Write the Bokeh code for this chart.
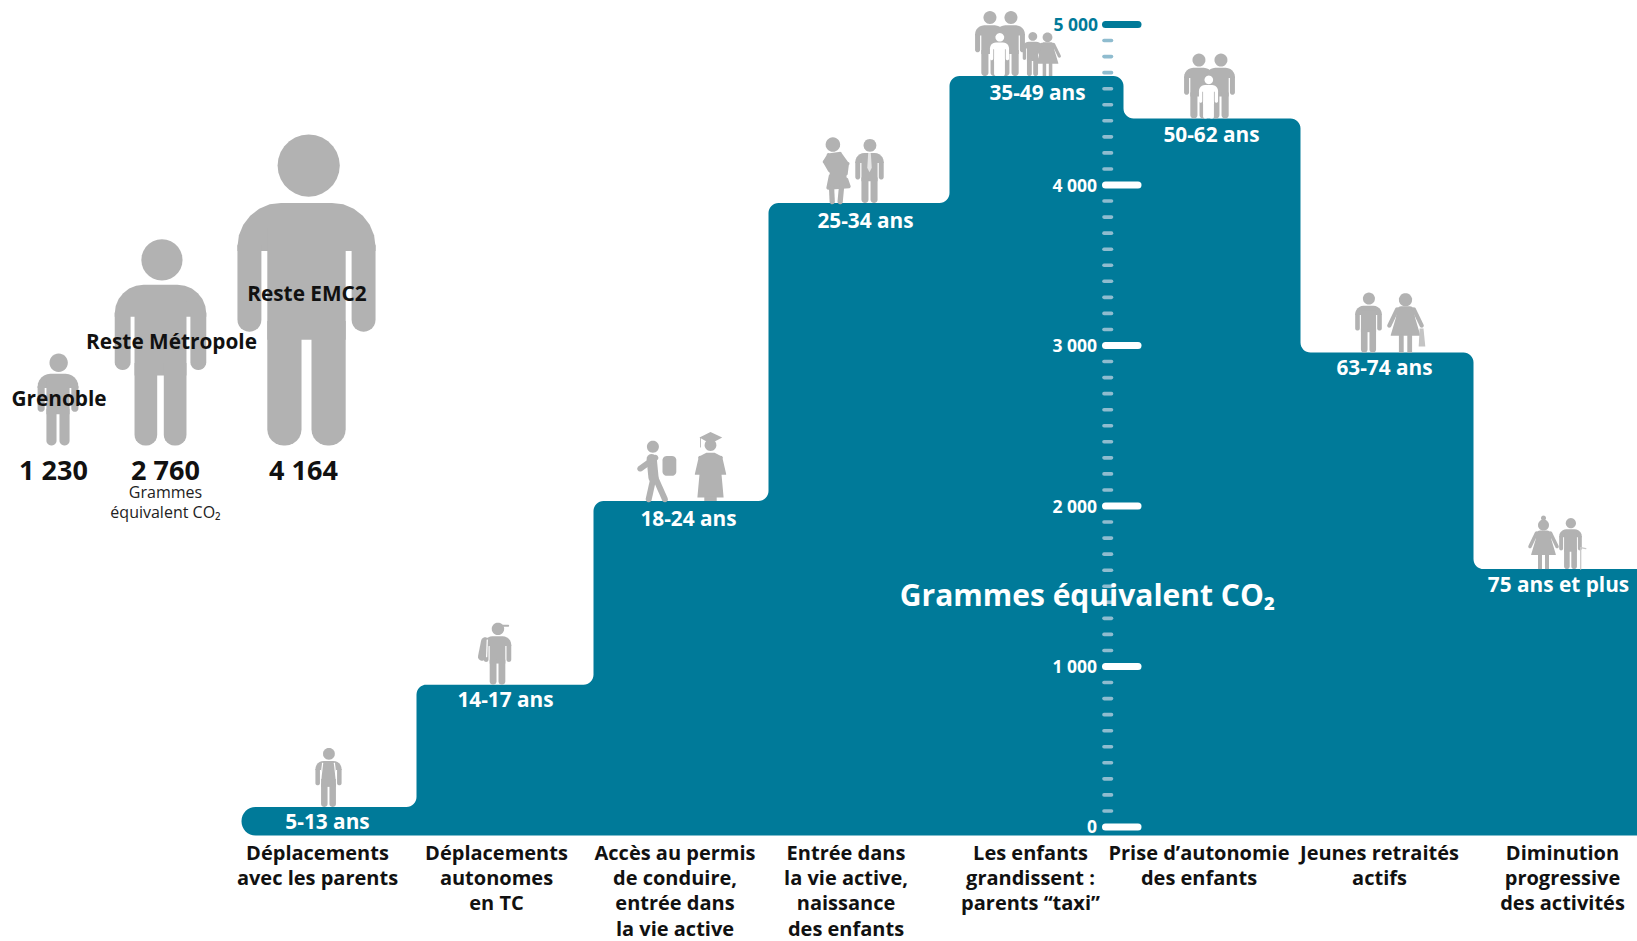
import math
import numpy as np
from bokeh.embed import file_html
from bokeh.resources import INLINE
from bokeh.plotting import figure
from bokeh.models import Range1d, ColumnDataSource
from bokeh.core.properties import value

# ---- data ----
age_groups = ["5-13 ans", "14-17 ans", "18-24 ans", "25-34 ans", "35-49 ans", "50-62 ans", "63-74 ans", "75 ans et plus"]
grams_per_age = [125, 887, 2031, 3888, 4679, 4414, 2956, 1607]
step_edges = [241, 416, 593, 768, 949, 1123, 1300, 1473, 1645]
phases = [["Déplacements", "avec les parents"], ["Déplacements", "autonomes", "en TC"],
          ["Accès au permis", "de conduire,", "entrée dans", "la vie active"],
          ["Entrée dans", "la vie active,", "naissance", "des enfants"],
          ["Les enfants", "grandissent :", "parents “taxi”"], ["Prise d’autonomie", "des enfants"],
          ["Jeunes retraités", "actifs"], ["Diminution", "progressive", "des activités"]]
zones = ["Grenoble", "Reste Métropole", "Reste EMC2"]
zone_grams = [1230, 2760, 4164]
zone_labels = ["1 230", "2 760", "4 164"]
major_ticks = [0, 1000, 2000, 3000, 4000, 5000]
major_labels = ["0", "1 000", "2 000", "3 000", "4 000", "5 000"]
minor_ticks = [v for v in range(100, 5000, 100) if v % 1000]

# ---- page geometry ----
W, H = 1637, 941
Y0, K = 826.5, 0.1605           # page y of 0 g, pixels per gram
TEAL, GRAY, PALE = "#007a99", "#b2b2b2", "#8fbccf"
FONT = value("Open Sans")


def gy(py):
    return (Y0 - np.asarray(py, dtype=float)) / K


def py(g):
    return Y0 - g * K


p = figure(width=W, height=H, x_range=Range1d(0, W),
           y_range=Range1d(float(gy(H)), float(gy(0))),
           output_backend="svg", toolbar_location=None, min_border=0,
           outline_line_color=None, background_fill_color="white", border_fill_color="white")
p.axis.visible = False
p.grid.visible = False
p.xaxis.visible = False
p.yaxis.visible = False


def rounded(pts, radii, n=8):
    out = []
    m = len(pts)
    for i, q in enumerate(pts):
        r = radii[i] if isinstance(radii, (list, tuple)) else radii
        q = np.array(q, float)
        if r <= 0:
            out.append(tuple(q))
            continue
        a = np.array(pts[i - 1], float) - q
        b = np.array(pts[(i + 1) % m], float) - q
        a /= np.linalg.norm(a)
        b /= np.linalg.norm(b)
        t1, t2 = q + a * r, q + b * r
        # circular arc between the two tangent points
        c = q + (a + b) * r
        v1, v2 = t1 - c, t2 - c
        ang1 = math.atan2(v1[1], v1[0])
        ang2 = math.atan2(v2[1], v2[0])
        d = (ang2 - ang1 + math.pi) % (2 * math.pi) - math.pi
        for k in range(n + 1):
            an = ang1 + d * k / n
            out.append((c[0] + r * math.cos(an), c[1] + r * math.sin(an)))
    return out


# ---- staircase ----
BASE = -53
pts = [(step_edges[0], py(BASE)), (step_edges[0], py(grams_per_age[0]))]
rad = [14, 14]
for i in range(len(grams_per_age)):
    pts.append((step_edges[i + 1], py(grams_per_age[i])))
    rad.append(10)
    if i + 1 < len(grams_per_age):
        pts.append((step_edges[i + 1], py(grams_per_age[i + 1])))
        rad.append(10)
rad[-1] = 0
pts.append((step_edges[-1], py(BASE)))
rad.append(0)
outline = rounded(pts, rad)
p.patch([a for a, _ in outline], [float(gy(b)) for _, b in outline], fill_color=TEAL, line_color=None)

# ---- scale ----
MX0, MX1, mx0, mx1 = 1105, 1137.5, 1103.5, 1111
p.segment(x0=[mx0] * len(minor_ticks), x1=[mx1] * len(minor_ticks), y0=minor_ticks, y1=minor_ticks,
          line_color=PALE, line_width=3.6, line_cap="round")
p.segment(x0=[MX0] * len(major_ticks), x1=[MX1] * len(major_ticks), y0=major_ticks, y1=major_ticks,
          line_color=["white"] * 5 + [TEAL], line_width=7, line_cap="round")


def txt(x, yy, s, size, color="black", style="bold", align="center"):
    p.text([x], [float(gy(yy))], text=[s], text_font=FONT, text_font_size=f"{size}px", text_color=color,
           text_font_style=style, text_align=align, text_baseline="middle")


for v, s in zip(major_ticks, major_labels):
    txt(1097.5 if v == 5000 else 1096.5, py(v) - 0.5, s, 17.5, TEAL if v == 5000 else "white", "bold", "right")

# ---- age labels and phases ----
age_x = [327, 505, 688, 865, 1037, 1211, 1384, 1558]
age_y = [820.5, 698, 517, 219.5, 91, 133.5, 366.8, 583.5]
for a, x, yy in zip(age_groups, age_x, age_y):
    txt(x, yy, a, 20.8, "white")

phase_x = [317, 496, 674.5, 845.5, 1030, 1198.5, 1379, 1562]
for lines, x in zip(phases, phase_x):
    for j, s in enumerate(lines):
        txt(x, 852 + 25.2 * j, s, 20, "#111111")

txt(1087, 594, "Grammes équivalent CO₂", 30, "white")

# ---- silhouettes ----
shp_x, shp_y, shp_c = [], [], []


def add(poly, cx, base, h, color=GRAY, flip=1):
    shp_x.append([cx + flip * a * h for a, _ in poly])
    shp_y.append([float(gy(base - h + b * h)) for _, b in poly])
    shp_c.append(color)


def circle(x, y, r, n=28):
    return [(x + r * math.cos(2 * math.pi * k / n), y + r * math.sin(2 * math.pi * k / n)) for k in range(n)]


def rr(x0, y0, x1, y1, rt=0.0, rb=0.0):
    return rounded([(x0, y0), (x1, y0), (x1, y1), (x0, y1)], [rt, rt, rb, rb], n=6)


def capsule(x0, y0, x1, y1, w, n=8):
    a = math.atan2(y1 - y0, x1 - x0)
    r = w / 2
    out = [(x1 + r * math.cos(a - math.pi / 2 + math.pi * k / n), y1 + r * math.sin(a - math.pi / 2 + math.pi * k / n)) for k in range(n + 1)]
    out += [(x0 + r * math.cos(a + math.pi / 2 + math.pi * k / n), y0 + r * math.sin(a + math.pi / 2 + math.pi * k / n)) for k in range(n + 1)]
    return out


def man():
    return [circle(.007, .10, .10), rr(-.222, .22, .222, .375, .14, 0),
            rr(-.222, .355, -.145, .634, 0, .038), rr(.145, .355, .222, .634, 0, .038),
            rr(-.126, .3, .126, .66), rr(-.126, .6, -.016, 1, 0, .052), rr(.016, .6, .126, 1, 0, .052)]


def woman():
    dress = rounded([(-.13, .23), (.13, .23), (.16, .42), (.25, .72), (-.25, .72), (-.16, .42)], [.06, .06, 0, .01, .01, 0], n=4)
    return [circle(0, .12, .11), dress, capsule(-.14, .28, -.27, .55, .07), capsule(.14, .28, .27, .55, .07),
            rr(-.11, .7, -.03, 1), rr(.03, .7, .11, 1)]


def draw(parts, cx, base, h, color=GRAY, flip=1):
    for q in parts:
        add(q, cx, base, h, color, flip)


# big figures: height proportional to grams
PX_PER_G = 0.0747
big_x = [57.5, 160, 306]
for x, g in zip(big_x, zone_grams):
    draw(man(), x, 445, g * PX_PER_G)

# 5-13: child with backpack straps
b = py(grams_per_age[0])
draw(man(), 328, b, 59)
add(capsule(-.1, .26, -.13, .52, .02), 328, b, 59, "white")
add(capsule(.1, .26, .13, .52, .02), 328, b, 59, "white")
# 14-17: teen with cap and backpack
b = py(grams_per_age[1])
draw(man(), 497, b, 62)
add(capsule(.08, .05, .17, .05, .035), 497, b, 62)
add(capsule(-.2, .3, -.25, .55, .13), 497, b, 62)
add(capsule(-.165, .28, -.175, .55, .02), 497, b, 62, "white")
# 18-24: hiker and graduate
b = py(grams_per_age[2])
hiker = [circle(-.01, .095, .1), capsule(-.03, .3, 0, .61, .17), capsule(.03, .28, -.22, .46, .1),
         rr(.15, .25, .38, .58, .07, .07), capsule(0, .61, -.08, .97, .1), capsule(.03, .61, .19, .97, .1)]
draw(hiker, 653, b, 60)
grad = [[(-.16, .08), (0, 0), (.17, .08), (0, .17)], capsule(-.146, .085, -.146, .22, .012), circle(0, .19, .085),
        rounded([(-.06, .30), (.06, .30), (.17, .36), (.23, .62), (.16, .62), (.19, .95), (-.19, .95), (-.16, .62), (-.23, .62), (-.17, .36)],
                [0, 0, .03, .01, 0, 0, 0, 0, .01, .03], n=3), rr(-.09, .94, .09, 1)]
draw(grad, 710, b, 69)
# 25-34: pregnant woman and man with tie
b = py(grams_per_age[3])
preg = [circle(-.07, .115, .11),
        rounded([(-.15, .25), (.05, .225), (.175, .4), (.15, .6), (.21, .775), (-.175, .8), (-.125, .55), (-.225, .375)], .03, n=3),
        capsule(-.09, .77, -.08, .98, .08), capsule(.06, .77, .04, .98, .08)]
draw(preg, 837, b, 66)
draw(man(), 869, b, 64)
add([(-.02, .22), (.02, .22), (.035, .45), (0, .52), (-.035, .45)], 869, b, 64, "#e6e6e6")
# 35-49: family
b = py(grams_per_age[4])
draw(man(), 989, b, 65)
draw(man(), 1010, b, 65)
draw(man(), 1032, b, 44)
draw(woman(), 1047, b, 44)
draw(man(), 999, b, 43, "white")
# 50-62: parents and teen
b = py(grams_per_age[5])
draw(man(), 1198, b, 65)
draw(man(), 1220, b, 65)
draw(man(), 1208, b, 43, "white")
# 63-74: retired couple
b = py(grams_per_age[6])
draw(man(), 1368, b, 60)
draw(woman(), 1405, b, 60)
add([(.235, .6), (.30, .6), (.33, .9), (.22, .9)], 1405, b, 60, "#c4c4c4")
# 75+: elders
b = py(grams_per_age[7])
draw(woman(), 1543, b, 50)
add(circle(0, -.02, .05), 1543, b, 50)
draw(man(), 1570, b, 51)
add(capsule(.2, .58, .2, 1, .025), 1570, b, 51, "#c8c8c8")
add(capsule(.2, .58, .3, .6, .025), 1570, b, 51, "#c8c8c8")

p.patches("x", "y", fill_color="c", line_color=None,
          source=ColumnDataSource(dict(x=shp_x, y=shp_y, c=shp_c)))

# ---- left panel texts ----
for s, x, yy in zip(zones, [58.5, 171, 306.5], [397.5, 340, 292]):
    txt(x, yy, s, 20.8, "#111111")
for s, x in zip(zone_labels, [53, 165, 303]):
    txt(x, 469, s, 27, "#111111")
txt(165, 491, "Grammes", 16, "#222222", "normal")
txt(165, 511, "équivalent CO₂", 16, "#222222", "normal")

open("out.html", "w").write(file_html(p, INLINE))
